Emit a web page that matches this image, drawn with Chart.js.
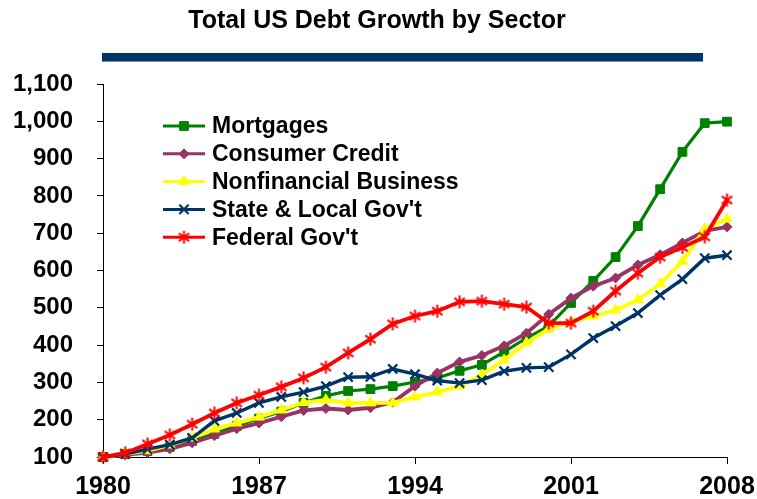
<!DOCTYPE html>
<html>
<head>
<meta charset="utf-8">
<script src="https://cdn.jsdelivr.net/npm/chart.js@4/dist/chart.umd.min.js"></script>
<style>
  html, body { margin: 0; padding: 0; background: #fff; }
  #wrap { width: 757px; height: 499px; }
</style>
</head>
<body>
<div id="wrap"><canvas id="c" width="757" height="499"></canvas></div>
<script>
// Index values (1980 = 100)
const years = ['1980','1981','1982','1983','1984','1985','1986','1987','1988','1989',
               '1990','1991','1992','1993','1994','1995','1996','1997','1998','1999',
               '2000','2001','2002','2003','2004','2005','2006','2007','2008'];
const tickYears = ['1980','1987','1994','2001','2008'];
const yTicks = [100, 200, 300, 400, 500, 600, 700, 800, 900, 1000, 1100];

const mortgages    = [100,108,116,127,143,162,183,203,222,245,264,277,282,290,301,312,331,347,382,419,451,513,572,636,719,818,918,995,999];
const consumerCred = [100,106,112,122,138,157,176,191,208,225,230,226,232,247,290,325,355,372,398,432,483,526,558,580,615,642,674,706,717];
const nonfinBiz    = [100,108,117,132,151,175,191,207,226,246,253,245,245,245,261,274,290,320,360,406,443,462,478,494,521,564,625,711,738];
const stateLocal   = [100,108,121,133,151,197,218,245,261,274,290,314,315,336,322,305,298,306,330,339,341,375,419,451,486,534,577,633,641];
const federalGov   = [100,111,135,159,188,218,245,266,288,312,341,379,416,457,478,491,516,518,510,502,459,459,491,545,593,636,662,690,789];

const seriesNames = ['Mortgages', 'Consumer Credit', 'Nonfinancial Business', "State & Local Gov't", "Federal Gov't"];
const FONT = 'Arial, "Liberation Sans", Helvetica, sans-serif';

// Asterisk marker: vertical stroke plus two diagonals
function makeAsterisk(color, r, w) {
  const s = Math.ceil(2 * r + w + 2);
  const cv = document.createElement('canvas');
  cv.width = s; cv.height = s;
  const g = cv.getContext('2d');
  const c = s / 2;
  g.strokeStyle = color; g.lineWidth = w; g.lineCap = 'butt';
  g.beginPath();
  g.moveTo(c, c - r); g.lineTo(c, c + r);
  const d = r * 0.8;
  g.moveTo(c - d, c - d * 0.75); g.lineTo(c + d, c + d * 0.75);
  g.moveTo(c - d, c + d * 0.75); g.lineTo(c + d, c - d * 0.75);
  g.stroke();
  return cv;
}
const asterisk = makeAsterisk('#ff0000', 6.5, 2);

function series(label, data, color, style, radius, bw, lw, order) {
  return {
    label, data, order,
    borderColor: color,
    backgroundColor: color,
    borderWidth: lw,
    pointStyle: style,
    pointRadius: radius,
    pointHoverRadius: radius,
    pointBackgroundColor: color,
    pointBorderColor: color,
    pointBorderWidth: bw,
    tension: 0,
    clip: false
  };
}

const datasets = [
  series(seriesNames[0], mortgages,    '#008000', 'rect',     6.2, 1,   3.2, 4),
  series(seriesNames[1], consumerCred, '#993366', 'rectRot',  5,   1,   3.8, 3),
  series(seriesNames[2], nonfinBiz,    '#ffff00', 'triangle', 6,   1,   3.8, 2),
  series(seriesNames[3], stateLocal,   '#003366', 'crossRot', 6.5, 2.2, 3.4, 1),
  series(seriesNames[4], federalGov,   '#ff0000', asterisk,   6.5, 2,   3.8, 0)
];

const decorPlugin = {
  id: 'decor',
  beforeDraw(chart) {
    const ctx = chart.ctx;
    ctx.save();
    ctx.fillStyle = '#ffffff';
    ctx.fillRect(0, 0, chart.width, chart.height);
    ctx.restore();
  },
  afterDraw(chart) {
    const ctx = chart.ctx;
    ctx.save();
    // heading
    ctx.fillStyle = '#000';
    ctx.font = 'bold 25px ' + FONT;
    ctx.textAlign = 'center';
    ctx.textBaseline = 'middle';
    ctx.fillText('Total US Debt Growth by Sector', 377, 21);
    // rule under the heading
    ctx.fillStyle = '#003366';
    ctx.fillRect(102, 53, 601, 8);
    ctx.fillStyle = '#6d8fb3';
    ctx.fillRect(102, 61, 601, 1);

    // legend built from the datasets
    const x0 = 163, x1 = 205, tx = 212, y0 = 126, dy = 27.8;
    ctx.font = 'bold 23px ' + FONT;
    ctx.textAlign = 'left';
    ctx.textBaseline = 'middle';
    chart.data.datasets.forEach((ds, i) => {
      const y = y0 + i * dy;
      ctx.strokeStyle = ds.borderColor;
      ctx.lineWidth = 3;
      ctx.beginPath();
      ctx.moveTo(x0, y); ctx.lineTo(x1, y);
      ctx.stroke();
      ctx.fillStyle = ds.pointBackgroundColor;
      ctx.strokeStyle = ds.pointBorderColor;
      ctx.lineWidth = ds.pointBorderWidth;
      Chart.helpers.drawPoint(ctx, {
        pointStyle: ds.pointStyle, radius: ds.pointRadius,
        rotation: 0, borderWidth: ds.pointBorderWidth
      }, (x0 + x1) / 2, y);
      ctx.fillStyle = '#000';
      ctx.fillText(ds.label, tx, y + 1);
    });
    ctx.restore();
  }
};

new Chart(document.getElementById('c'), {
  type: 'line',
  data: { labels: years, datasets },
  plugins: [decorPlugin],
  options: {
    responsive: false,
    devicePixelRatio: 1,
    animation: false,
    events: [],
    layout: { padding: { top: 84, right: 30, left: 0, bottom: 0 } },
    plugins: { legend: { display: false }, tooltip: { enabled: false }, title: { display: false } },
    scales: {
      x: {
        type: 'category',
        offset: false,
        afterFit(scale) {
          scale.height = 42;
          scale.paddingLeft = 0;
          scale.paddingRight = 0;
        },
        grid: {
          offset: false,
          drawOnChartArea: false,
          drawTicks: true,
          tickLength: 7,
          tickWidth: 1,
          tickColor: (c) => tickYears.includes(years[c.index]) ? '#000' : 'rgba(0,0,0,0)'
        },
        border: { display: true, color: '#000', width: 1 },
        ticks: {
          autoSkip: false,
          maxRotation: 0,
          minRotation: 0,
          padding: 8,
          color: '#000',
          font: { family: FONT, size: 25, weight: 'bold' },
          callback(v) {
            const l = this.getLabelForValue(v);
            return tickYears.includes(l) ? l : '';
          }
        }
      },
      y: {
        min: yTicks[0],
        max: yTicks[yTicks.length - 1],
        afterFit(scale) {
          scale.width = 103;
          scale.paddingTop = 0;
          scale.paddingBottom = 0;
        },
        afterBuildTicks(scale) { scale.ticks = yTicks.map(v => ({ value: v })); },
        grid: {
          drawOnChartArea: false,
          drawTicks: true,
          tickLength: 6,
          tickWidth: 1,
          tickColor: '#000'
        },
        border: { display: true, color: '#000', width: 1 },
        ticks: {
          padding: 24,
          color: '#000',
          font: { family: FONT, size: 24, weight: 'bold' },
          callback: (v) => v.toLocaleString('en-US')
        }
      }
    }
  }
});
</script>
</body>
</html>
